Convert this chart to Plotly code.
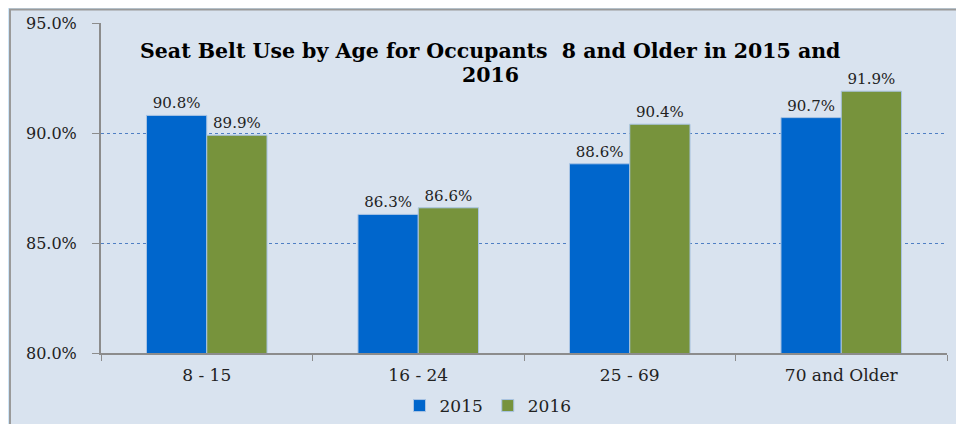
import plotly.graph_objects as go

# Seat belt use by age group (percent)
age_groups = ["8 - 15", "16 - 24", "25 - 69", "70 and Older"]
use_2015 = [90.8, 86.3, 88.6, 90.7]
use_2016 = [89.9, 86.6, 90.4, 91.9]
series_names = ["2015", "2016"]

BLUE = "#0066CC"
GREEN = "#77933C"
PANEL = "#D9E3EF"
SERIF = "DejaVu Serif, Liberation Serif, serif"

# the page offsets the figure a few pixels, so lay things out in window pixels
DX, DY = 6, 7
W, H = 964, 424
# plot area in window pixels: x 99..945, y 22..352
L, R, T, B = 99 - DX, W - 945 + DX, 22 - DY, H - 352 + DY
pw, ph = W - L - R, H - T - B
px2x = lambda p: (p - DX - L) / pw
py2y = lambda p: (T + ph - (p - DY)) / ph

fig = go.Figure()
for name, vals, col in zip(series_names, [use_2015, use_2016], [BLUE, GREEN]):
    fig.add_trace(go.Bar(
        x=age_groups, y=vals, name=name,
        marker=dict(color=col, line=dict(width=1, color="#A9C4E4")),
        text=[f"{v:.1f}%" for v in vals],
        textposition="outside", cliponaxis=False,
        textfont=dict(family=SERIF, size=15, color="#222222"),
    ))

# inner panel with grey border over a light blue background
fig.add_shape(type="rect", xref="paper", yref="paper", layer="below",
              x0=px2x(8), x1=px2x(975), y0=py2y(8.5), y1=py2y(440),
              fillcolor=PANEL, line=dict(color="#9A9A9A", width=2))

title_lines = ["Seat Belt Use by Age for Occupants  8 and Older in 2015 and", "2016"]
for line, ypix in zip(title_lines, [50, 74]):
    fig.add_annotation(
        text=line, xref="paper", yref="paper", x=px2x(488), y=py2y(ypix),
        xanchor="center", yanchor="middle", showarrow=False,
        font=dict(family=SERIF, size=20.5, color="black", weight="bold"),
    )

fig.update_layout(
    width=W, height=H,
    margin=dict(l=L, r=R, t=T, b=B, autoexpand=False),
    paper_bgcolor="#CFE6F8",
    plot_bgcolor="rgba(0,0,0,0)",
    barmode="group", bargap=0.43, bargroupgap=0,
    showlegend=True,
    legend=dict(orientation="h", xanchor="center", x=px2x(486),
                yanchor="middle", y=py2y(405),
                font=dict(family=SERIF, size=17, color="#222222"),
                bgcolor="rgba(0,0,0,0)", itemwidth=30, tracegroupgap=0),
)

fig.update_yaxes(
    range=[80, 95], dtick=5, tickformat=".1f", ticksuffix="%",
    showgrid=True, gridcolor="#4F7FC4", griddash="dot", gridwidth=1,
    showline=True, linecolor="#8C8C8C", linewidth=2,
    ticks="outside", ticklen=7, tickcolor="#8C8C8C", ticklabelstandoff=12,
    tickfont=dict(family=SERIF, size=16, color="#222222"),
    zeroline=False, automargin=False,
)
fig.update_xaxes(
    showline=True, linecolor="#8C8C8C", linewidth=2,
    ticks="outside", tickson="boundaries", ticklen=6, tickcolor="#8C8C8C",
    tickfont=dict(family=SERIF, size=17, color="#222222"),
    ticklabelstandoff=6,
    showgrid=False, automargin=False,
)

fig.write_html("out.html")
